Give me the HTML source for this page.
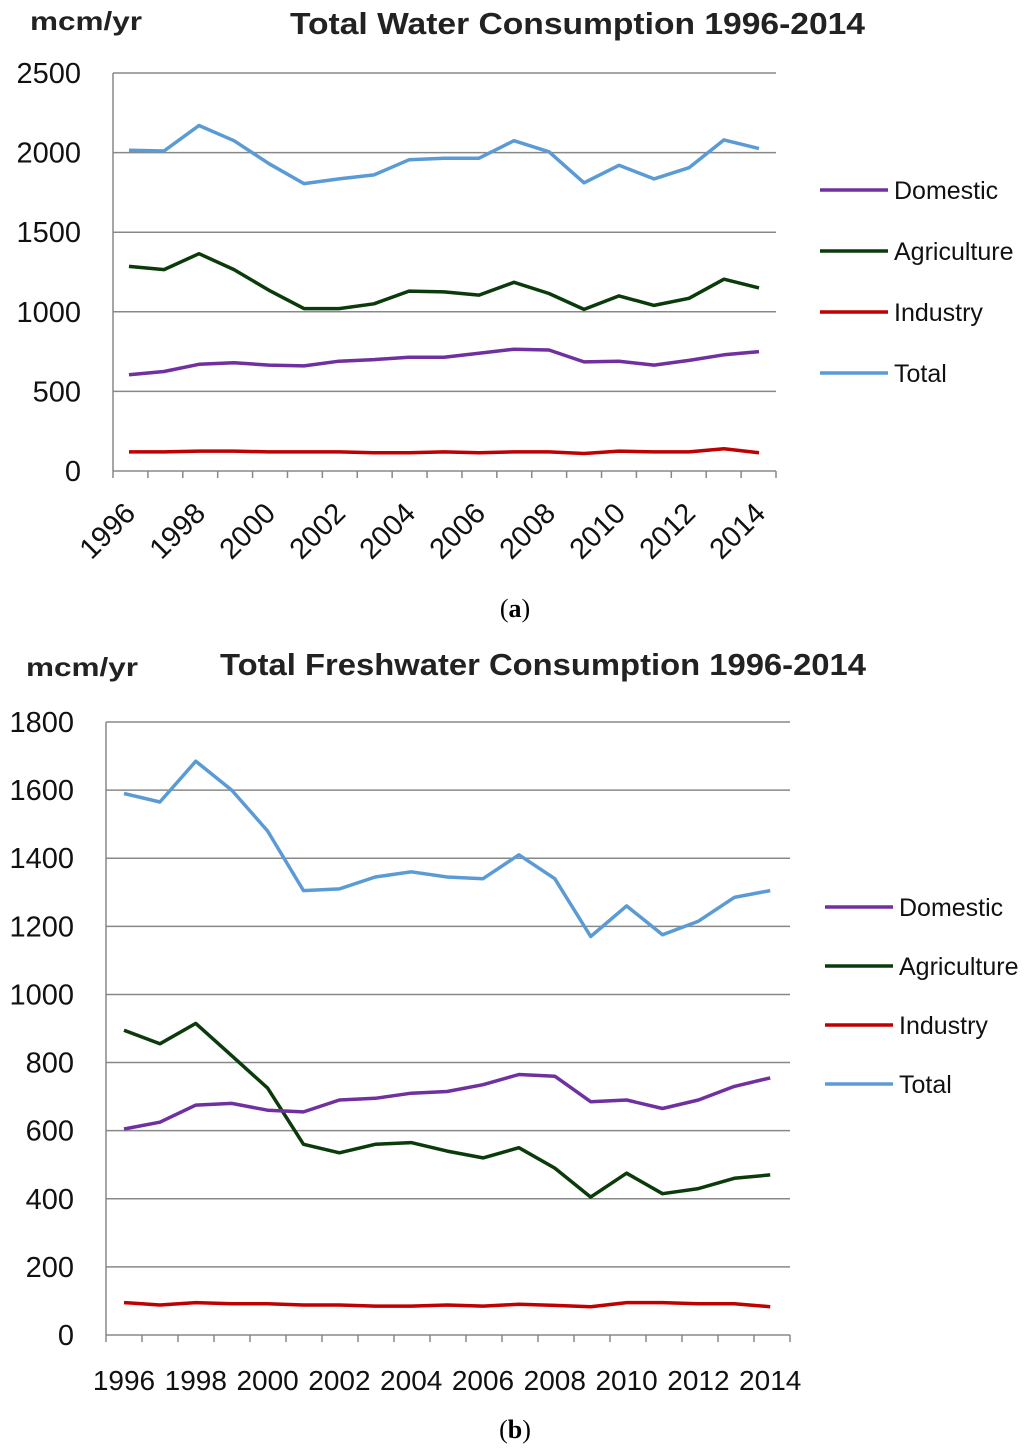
<!DOCTYPE html>
<html><head><meta charset="utf-8">
<style>
body{margin:0;background:#fff;}
svg{display:block;font-family:"Liberation Sans",sans-serif;}
</style></head>
<body>
<svg id="svg" width="1024" height="1451" viewBox="0 0 1024 1451" xmlns="http://www.w3.org/2000/svg">
<text x="30" y="30" font-size="26" font-weight="bold" fill="#222" textLength="112" lengthAdjust="spacingAndGlyphs">mcm/yr</text>
<text x="290" y="34" font-size="31" font-weight="bold" fill="#222" textLength="575" lengthAdjust="spacingAndGlyphs">Total Water Consumption 1996-2014</text>
<text x="515" y="617" font-size="26" text-anchor="middle" font-family="Liberation Serif,serif">(<tspan font-weight="bold">a</tspan>)</text>
<text x="26" y="676" font-size="26" font-weight="bold" fill="#222" textLength="112" lengthAdjust="spacingAndGlyphs">mcm/yr</text>
<text x="220" y="675" font-size="31" font-weight="bold" fill="#222" textLength="646" lengthAdjust="spacingAndGlyphs">Total Freshwater Consumption 1996-2014</text>
<text x="515" y="1438" font-size="26" text-anchor="middle" font-family="Liberation Serif,serif">(<tspan font-weight="bold">b</tspan>)</text>
</svg>
<script>
const years=[1996,1997,1998,1999,2000,2001,2002,2003,2004,2005,2006,2007,2008,2009,2010,2011,2012,2013,2014];
const seriesNames=["Domestic","Agriculture","Industry","Total"];
const seriesColors=["#7030a0","#0b3b0b","#c00000","#5b9bd5"];
const aDomestic=[605,625,670,680,665,660,690,700,715,715,740,765,760,685,690,665,695,730,750];
const aAgriculture=[1285,1265,1365,1265,1135,1020,1020,1050,1130,1125,1105,1185,1115,1015,1100,1040,1085,1205,1150];
const aIndustry=[120,120,125,125,120,120,120,115,115,120,115,120,120,110,125,120,120,140,115];
const aTotal=[2015,2010,2170,2075,1930,1805,1835,1860,1955,1965,1965,2075,2005,1810,1920,1835,1905,2080,2025];
const aTicks=[0,500,1000,1500,2000,2500];
const bDomestic=[605,625,675,680,660,655,690,695,710,715,735,765,760,685,690,665,690,730,755];
const bAgriculture=[895,855,915,820,725,560,535,560,565,540,520,550,490,405,475,415,430,460,470];
const bIndustry=[95,88,95,92,92,88,88,85,85,88,85,90,87,83,95,95,92,92,83];
const bTotal=[1590,1565,1685,1600,1480,1305,1310,1345,1360,1345,1340,1410,1340,1170,1260,1175,1215,1285,1305];
const bTicks=[0,200,400,600,800,1000,1200,1400,1600,1800];
const xLabels=["1996","1998","2000","2002","2004","2006","2008","2010","2012","2014"];

const svg=document.getElementById('svg');
const NS="http://www.w3.org/2000/svg";
function mk(tag,attrs){const e=document.createElementNS(NS,tag);for(const k in attrs)e.setAttribute(k,attrs[k]);svg.appendChild(e);return e;}

function chart(id,cfg,series,ticks){
  const {x0,x1,yTop,yBot,max,first,step,rotate,legX,legY,legGap}=cfg;
  const X=i=>first+i*step;
  const Y=v=>yBot-(v/max)*(yBot-yTop);
  ticks.forEach(t=>{
    const g=mk('line',{x1:x0,x2:x1,y1:Y(t),y2:Y(t),stroke:'#888','stroke-width':1.5});
    
    
    const l=mk('text',{x:x0-32,y:Y(t)+10,'font-size':29,'text-anchor':'end',fill:'#111'});
    l.textContent=t;
    
    
  });
  const ax=mk('line',{x1:x0,x2:x0,y1:yTop,y2:yBot,stroke:'#888','stroke-width':1.5});
  
  
  for(let i=0;i<=years.length;i++){
    const tx=x0+i*((x1-x0)/years.length);
    const tk=mk('line',{x1:tx,x2:tx,y1:yBot,y2:yBot+7,stroke:'#888','stroke-width':1.5});
    
    
  }
  xLabels.forEach((lab,k)=>{
    const i=years.indexOf(+lab);
    let t;
    if(rotate){
      const px=X(i)+8,py=yBot+44;
      t=mk('text',{x:px,y:py,'font-size':29,'text-anchor':'end',fill:'#111',transform:`rotate(-45 ${px} ${py})`});
    }else{
      t=mk('text',{x:X(i),y:yBot+55,'font-size':28,'text-anchor':'middle',fill:'#111'});
    }
    t.textContent=lab;
    
    
  });
  [2,1,0,3].forEach(s=>{
    const d=series[s].map((v,i)=>(i?'L':'M')+X(i).toFixed(1)+','+Y(v).toFixed(1)).join(' ');
    const p=mk('path',{d:d,fill:'none',stroke:seriesColors[s],'stroke-width':3.5,'stroke-linejoin':'round'});
    
    
  });
  seriesNames.forEach((n,s)=>{
    const y=legY+s*legGap;
    const l=mk('line',{x1:legX,x2:legX+68,y1:y,y2:y,stroke:seriesColors[s],'stroke-width':3.5});
    
    
    const t=mk('text',{x:legX+74,y:y+9,'font-size':25,fill:'#111'});
    t.textContent=n;
    
    
  });
}
chart('chart-a',{x0:113,x1:776,yTop:73,yBot:471,max:2500,first:129,step:35,rotate:true,legX:820,legY:190,legGap:61},[aDomestic,aAgriculture,aIndustry,aTotal],aTicks);
chart('chart-b',{x0:106,x1:790,yTop:722,yBot:1335,max:1800,first:124,step:35.9,rotate:false,legX:825,legY:907,legGap:59},[bDomestic,bAgriculture,bIndustry,bTotal],bTicks);
</script>
</body></html>
